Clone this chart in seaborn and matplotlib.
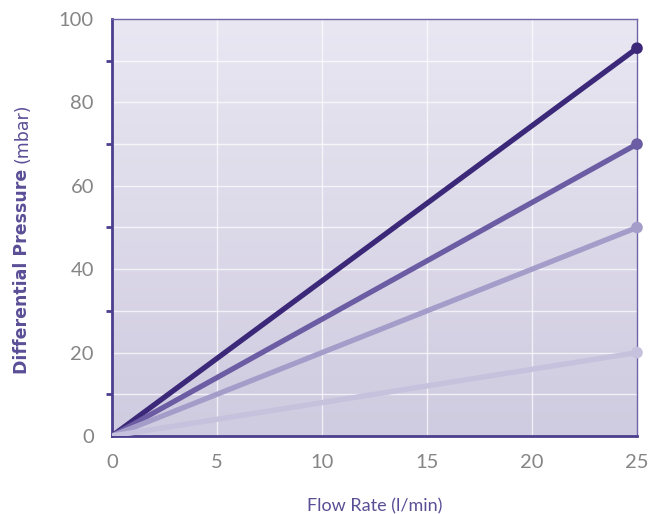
import matplotlib
matplotlib.use('Agg')
import matplotlib.pyplot as plt
import numpy as np
import pandas as pd
import seaborn as sns
from matplotlib.colors import LinearSegmentedColormap

sns.set_style('white')
plt.rcParams['font.family'] = ['Lato', 'DejaVu Sans']

# data
flow = [0, 25]
series_names = ['A', 'B', 'C', 'D']
end_pressure = [93, 70, 50, 20]
line_colors = ['#3b2878', '#6b5ca3', '#a59dc9', '#c6c1dd']

rows = []
for name, p in zip(series_names, end_pressure):
    for f in flow:
        rows.append({'flow': f, 'pressure': p * f / 25, 'series': name})
df = pd.DataFrame(rows)

axis_col = '#4b3f8e'
label_col = '#5a4e96'

fig = plt.figure(figsize=(6.51, 5.14), dpi=100)
ax = fig.add_axes([0.172, 0.1518, 0.8065, 0.8112])

# gradient background
bg = LinearSegmentedColormap.from_list('bg', ['#cfcbe0', '#e9e7f2'])
grad = np.linspace(0, 1, 256).reshape(-1, 1)
ax.imshow(grad, extent=[0, 25, 0, 100], origin='lower', aspect='auto',
          cmap=bg, zorder=0)

# grid
for x in [5, 10, 15, 20]:
    ax.axvline(x, color='white', lw=1.0, alpha=0.7, zorder=1)
for y in range(10, 100, 10):
    ax.axhline(y, color='white', lw=1.0, alpha=0.7, zorder=1)

palette = dict(zip(series_names, line_colors))
sns.lineplot(data=df, x='flow', y='pressure', hue='series', palette=palette,
             lw=3.8, legend=False, ax=ax, zorder=3)
ends = df[df['flow'] == 25]
sns.scatterplot(data=ends, x='flow', y='pressure', hue='series', palette=palette,
                s=70, edgecolor='none', legend=False, ax=ax, zorder=4, clip_on=False)

ax.set_xlim(0, 25)
ax.set_ylim(0, 100)
ax.set_xticks([0, 5, 10, 15, 20, 25])
ax.set_yticks([0, 20, 40, 60, 80, 100])
ax.set_yticks(range(10, 100, 20), minor=True)
ax.tick_params(axis='both', which='major', direction='out', length=9, width=2,
               color=axis_col, labelcolor='#858585', labelsize=14.5, pad=4)
ax.tick_params(axis='y', which='minor', direction='out', length=4.5, width=2,
               color=axis_col, left=True)

for side in ['left', 'bottom']:
    ax.spines[side].set_color(axis_col)
    ax.spines[side].set_linewidth(2)
for side in ['top', 'right']:
    ax.spines[side].set_color('#6e64a8')
    ax.spines[side].set_linewidth(1)

ax.set_xlabel('Flow Rate (l/min)', color=label_col, fontsize=13, labelpad=20)
ax.set_ylabel('')
fig.text(0.034, 0.272, 'Differential Pressure', rotation=90, color=label_col,
         fontsize=12.5, fontweight='bold', ha='center', va='bottom',
         family='DejaVu Sans')
fig.text(0.034, 0.683, '(mbar)', rotation=90, color=label_col,
         fontsize=12.5, ha='center', va='bottom', family='DejaVu Sans')

fig.savefig('out.png', dpi=100)
